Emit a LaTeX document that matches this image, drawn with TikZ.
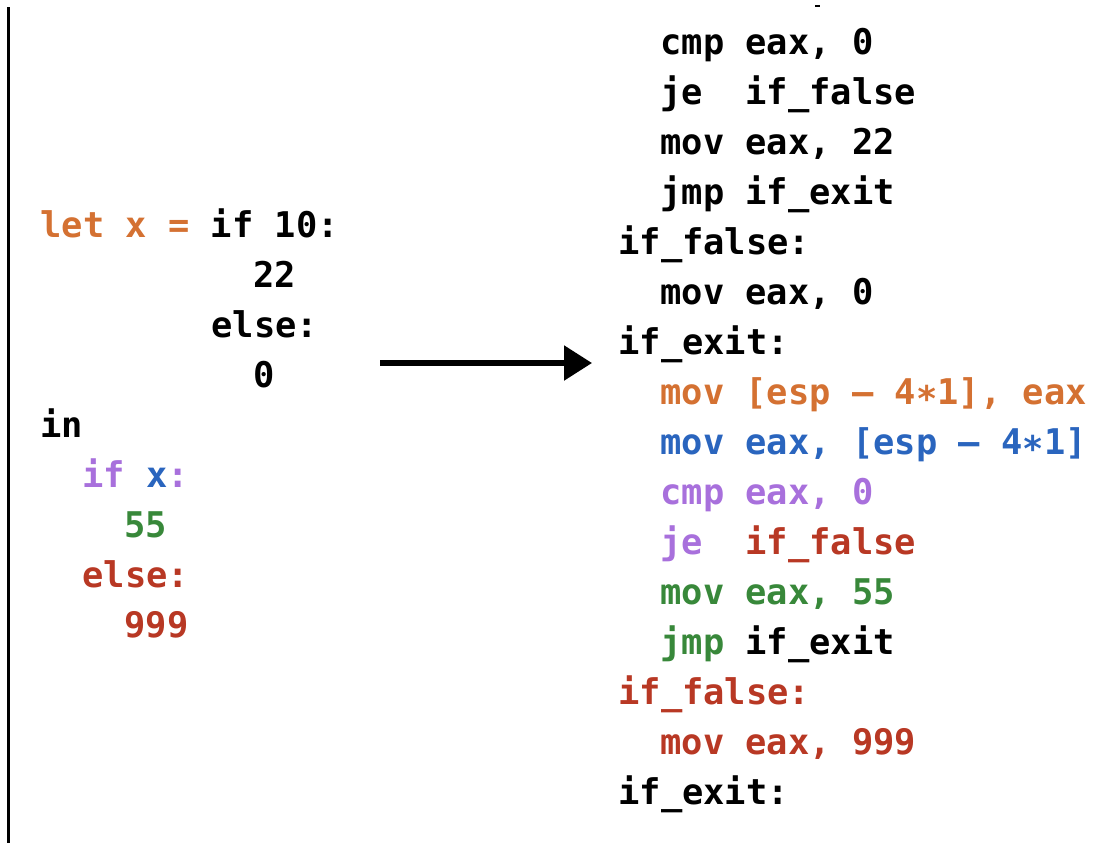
\documentclass[tikz,border=0pt]{standalone}
\usepackage{fontspec}
\setmonofont{DejaVu Sans Mono}
\usetikzlibrary{arrows.meta}

\definecolor{cdorange}{RGB}{212,113,50}
\definecolor{cdblue}{RGB}{42,101,190}
\definecolor{cdpurple}{RGB}{168,112,220}
\definecolor{cdgreen}{RGB}{56,136,58}
\definecolor{cdred}{RGB}{184,56,36}

\newcommand{\codefont}{\ttfamily\bfseries\fontsize{17.7}{25}\selectfont}
\newcommand{\lowast}{\raisebox{-0.2em}{*}}

\tikzset{
  code/.style={anchor=base west, inner sep=0pt, font=\codefont},
}

\begin{document}
\begin{tikzpicture}[x=0.5pt, y=-0.5pt]
	\useasboundingbox (0,0) rectangle (1103,843);
	\draw[line width=1.5pt] (8,7) -- (8,843);
	\draw[line width=0.6pt] (815,6) -- (820,6);
	% source program
	\node[code] (let)   at (40,237)  {\textcolor{cdorange}{let x =} if 10:};
	\node[code] (then)  at (253,287) {22};
	\node[code] (els)   at (211,337) {else:};
	\node[code] (zero)  at (253,387) {0};
	\node[code] (in)    at (40,437)  {in};
	\node[code] (ifx)   at (82,487)  {\textcolor{cdpurple}{if} \textcolor{cdblue}{x}\textcolor{cdpurple}{:}};
	\node[code] (fif)   at (124,537) {\textcolor{cdgreen}{55}};
	\node[code] (els2)  at (82,587)  {\textcolor{cdred}{else:}};
	\node[code] (nine)  at (124,637) {\textcolor{cdred}{999}};
	% compiled output
	\node[code] (a1)  at (660,54)  {cmp eax, 0};
	\node[code] (a2)  at (660,104) {je\ \ if\_false};
	\node[code] (a3)  at (660,154) {mov eax, 22};
	\node[code] (a4)  at (660,204) {jmp if\_exit};
	\node[code] (a5)  at (618,254) {if\_false:};
	\node[code] (a6)  at (660,304) {mov eax, 0};
	\node[code] (a7)  at (618,354) {if\_exit:};
	\node[code] (a8)  at (660,404) {\textcolor{cdorange}{mov [esp – 4\lowast1], eax}};
	\node[code] (a9)  at (660,454) {\textcolor{cdblue}{mov eax, [esp – 4\lowast1]}};
	\node[code] (a10) at (660,504) {\textcolor{cdpurple}{cmp eax, 0}};
	\node[code] (a11) at (660,554) {\textcolor{cdpurple}{je}\ \ \textcolor{cdred}{if\_false}};
	\node[code] (a12) at (660,604) {\textcolor{cdgreen}{mov eax, 55}};
	\node[code] (a13) at (660,654) {\textcolor{cdgreen}{jmp} if\_exit};
	\node[code] (a14) at (618,704) {\textcolor{cdred}{if\_false:}};
	\node[code] (a15) at (660,754) {\textcolor{cdred}{mov eax, 999}};
	\node[code] (a16) at (618,804) {if\_exit:};
	% arrow
	\coordinate (arrfrom) at (380,363);
	\coordinate (arrto) at (592,363);
	\draw[line width=2.7pt, -{Triangle[length=14pt,width=17pt]}] (arrfrom) -- (arrto);
\end{tikzpicture}
\end{document}
